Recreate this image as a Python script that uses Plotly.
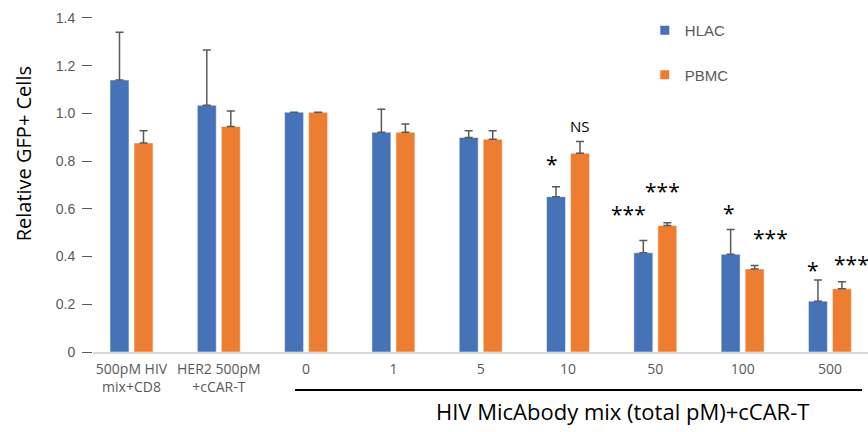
import plotly.graph_objects as go

categories = ["500pM HIV<br>mix+CD8", "HER2 500pM<br>+cCAR-T", "0", "1", "5", "10", "50", "100", "500"]
hlac = [1.14, 1.034, 1.005, 0.921, 0.899, 0.651, 0.416, 0.410, 0.213]
hlac_err = [0.20, 0.232, 0.0, 0.096, 0.028, 0.042, 0.051, 0.103, 0.089]
pbmc = [0.876, 0.945, 1.005, 0.921, 0.892, 0.833, 0.530, 0.348, 0.265]
pbmc_err = [0.051, 0.065, 0.0, 0.035, 0.035, 0.049, 0.012, 0.014, 0.029]

# significance labels: (category index offset, y value, text)
sig_x = [4.82, 5.14, 5.69, 6.08, 6.845, 7.315, 7.81, 8.25]
sig_y = [0.794, 0.946, 0.584, 0.679, 0.588, 0.483, 0.348, 0.372]
sig_text = ["*", "NS", "***", "***", "*", "***", "*", "***"]

BLUE = "#4672B8"
ORANGE = "#ED7D31"
GRAY = "#595959"

fig = go.Figure()
fig.add_trace(go.Bar(
    name="HLAC", x=categories, y=hlac, marker=dict(color=BLUE, line=dict(color="white", width=0.5)),
    error_y=dict(type="data", array=hlac_err, arrayminus=[0]*len(hlac_err), symmetric=False,
                 color=GRAY, thickness=1.5, width=4),
    legendgroup="a", showlegend=False,
))
fig.add_trace(go.Bar(
    name="PBMC", x=categories, y=pbmc, marker=dict(color=ORANGE, line=dict(color="white", width=0.5)),
    error_y=dict(type="data", array=pbmc_err, arrayminus=[0]*len(pbmc_err), symmetric=False,
                 color=GRAY, thickness=1.5, width=4),
    legendgroup="b", showlegend=False,
))
# legend entries with small square swatches
fig.add_trace(go.Scatter(name="HLAC", x=[None], y=[None], mode="markers",
                         marker=dict(symbol="square", size=9, color=BLUE), legendgroup="a"))
fig.add_trace(go.Scatter(name="PBMC", x=[None], y=[None], mode="markers",
                         marker=dict(symbol="square", size=9, color=ORANGE), legendgroup="b"))

annotations = []
for xv, yv, t in zip(sig_x, sig_y, sig_text):
    if t == "NS":
        annotations.append(dict(x=xv, y=yv, xref="x", yref="y", text=t, showarrow=False,
                                font=dict(family="Open Sans", size=15, color="black"),
                                xanchor="center", yanchor="middle"))
    else:
        annotations.append(dict(x=xv, y=yv, xref="x", yref="y", text=t, showarrow=False,
                                font=dict(family="Open Sans", size=21, color="black"),
                                xanchor="center", yanchor="middle", yshift=-1))

annotations.append(dict(x=5.62, y=-0.1705, xref="x", yref="paper",
                        text="HIV MicAbody mix (total pM)+cCAR-T", showarrow=False,
                        font=dict(family="Open Sans", size=22, color="black"),
                        xanchor="center", yanchor="middle"))
annotations.append(dict(x=-0.09, y=0.572, xref="paper", yref="paper",
                        text="Relative GFP+ Cells", showarrow=False, textangle=-90,
                        font=dict(family="Open Sans", size=20, color="black"),
                        xanchor="center", yanchor="middle"))

fig.update_layout(
    width=868, height=432,
    margin=dict(l=93, r=0, t=6, b=80),
    paper_bgcolor="white", plot_bgcolor="white",
    barmode="group", bargap=0.45, bargroupgap=0.21,
    showlegend=True,
    legend=dict(x=0.712, y=0.977, xanchor="left", yanchor="top",
                font=dict(family="Liberation Sans, Arial", size=15, color=GRAY),
                tracegroupgap=22, bgcolor="rgba(0,0,0,0)", itemwidth=30),
    annotations=annotations,
    shapes=[dict(type="line", xref="x", yref="paper", x0=1.873, x1=8.368, y0=-0.1098, y1=-0.1098,
                 line=dict(color="black", width=2))],
)
fig.update_xaxes(
    type="category", range=[-0.441, 8.436],
    showline=True, linecolor="#D9D9D9", linewidth=2,
    ticks="", showgrid=False, zeroline=False,
    tickfont=dict(family="Open Sans", size=14, color=GRAY),
    ticklabelstandoff=3,
)
fig.update_yaxes(
    range=[0, 1.45], tickvals=[0, 0.2, 0.4, 0.6, 0.8, 1.0, 1.2, 1.4],
    ticktext=["0", "0.2", "0.4", "0.6", "0.8", "1.0", "1.2", "1.4"],
    ticks="outside", ticklen=10, tickcolor=GRAY, tickwidth=1,
    showgrid=False, zeroline=False, showline=False,
    tickfont=dict(family="Liberation Sans, Arial", size=14, color=GRAY),
    ticklabelstandoff=4,
)

fig.write_html("out.html")
